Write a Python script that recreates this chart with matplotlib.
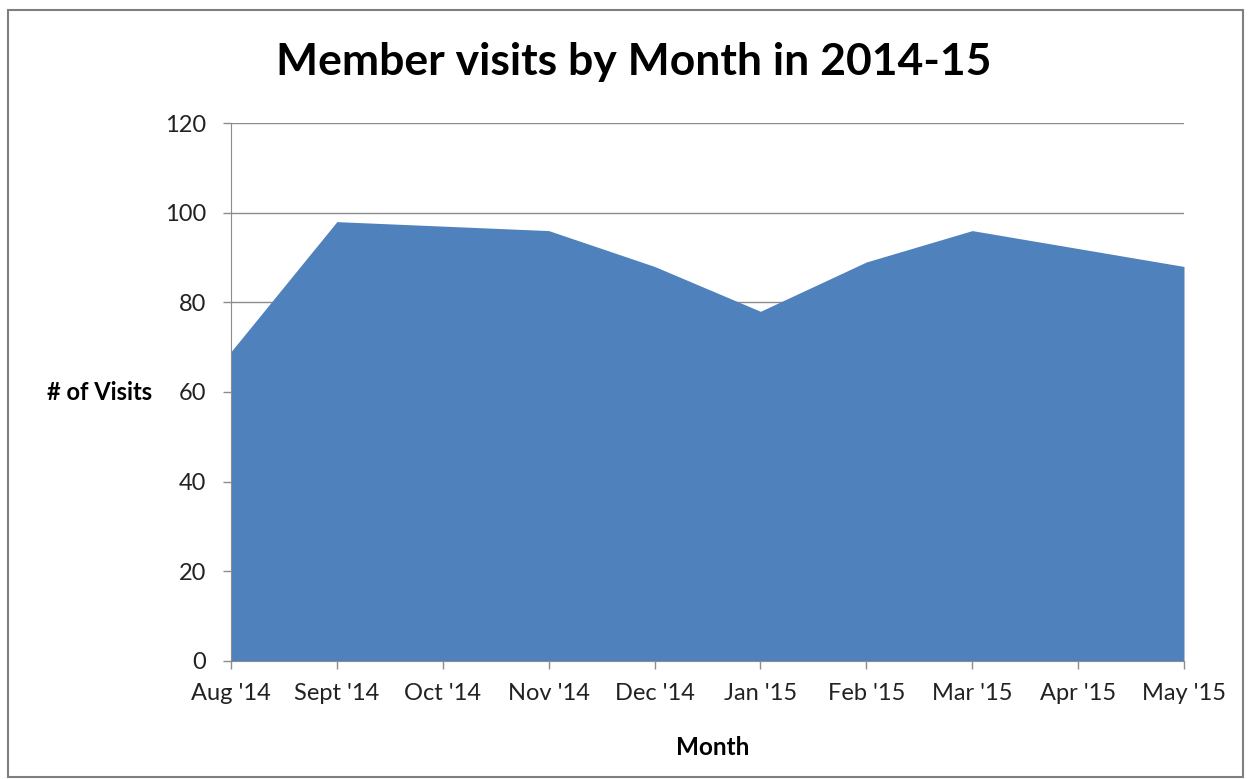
import numpy as np
import matplotlib.pyplot as plt
from matplotlib.patches import Rectangle

months = ["Aug '14", "Sept '14", "Oct '14", "Nov '14", "Dec '14",
          "Jan '15", "Feb '15", "Mar '15", "Apr '15", "May '15"]
visits = [69, 98, 97, 96, 88, 78, 89, 96, 92, 88]
y_ticks = [0, 20, 40, 60, 80, 100, 120]

plt.rcParams["font.family"] = ["Lato", "DejaVu Sans"]

fig = plt.figure(figsize=(12.5, 7.79), dpi=100)
ax = fig.add_axes([0.1848, 0.1515, 0.7624, 0.6906])

x = np.arange(len(months))
ax.fill_between(x, 0, visits, color="#4F81BD", linewidth=0, zorder=2)

ax.set_xlim(0, len(months) - 1)
ax.set_ylim(0, 120)
ax.set_yticks(y_ticks)
ax.set_xticks(x)
ax.set_xticklabels(months)
ax.yaxis.grid(True, color="#8c8c8c", linewidth=1, zorder=0)
ax.set_axisbelow(True)

for s in ["top", "right"]:
    ax.spines[s].set_visible(False)
ax.spines["left"].set_color("#8c8c8c")
ax.spines["bottom"].set_color("#8c8c8c")
ax.tick_params(axis="both", colors="#8c8c8c", labelcolor="#222222",
               labelsize=17, length=6, width=1)
ax.tick_params(axis="x", pad=10)
ax.tick_params(axis="y", pad=12)

fig.text(0.507, 0.921, "Member visits by Month in 2014-15", ha="center",
         va="center", fontsize=32, fontweight="bold", color="black")
fig.text(0.0376, 0.496, "# of Visits", ha="left", va="center",
         fontsize=17, fontweight="bold", color="black")
fig.text(0.570, 0.040, "Month", ha="center", va="center",
         fontsize=17.5, fontweight="bold", color="black")

# outer chart frame
fig.patches.append(Rectangle((0.006, 0.003), 0.988, 0.984,
                             transform=fig.transFigure, fill=False,
                             edgecolor="#7f7f7f", linewidth=1.5))

fig.savefig("out.png", dpi=100)
